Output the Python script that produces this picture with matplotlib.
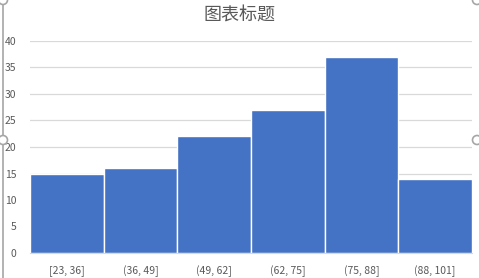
import matplotlib.pyplot as plt
from matplotlib.patches import Circle
from matplotlib.lines import Line2D

plt.rcParams['font.family'] = ['Noto Sans CJK SC', 'DejaVu Sans']

bins = ['[23, 36]', '(36, 49]', '(49, 62]', '(62, 75]', '(75, 88]', '(88, 101]']
counts = [15, 16, 22, 27, 37, 14]
yticks = [0, 5, 10, 15, 20, 25, 30, 35, 40]

W, H = 479, 278
fig = plt.figure(figsize=(W / 100, H / 100), dpi=100)
ax = fig.add_axes([30 / W, 1 - 253 / H, 442 / W, 212 / H])

x = list(range(len(bins)))
ax.bar(x, counts, width=1.0, color='#4472C4', edgecolor='white', linewidth=1.0, zorder=3)

ax.set_xlim(-0.5, len(bins) - 0.5)
ax.set_ylim(0, 40)
ax.set_yticks(yticks)
ax.set_xticks(x)
ax.set_xticklabels(bins)
ax.yaxis.grid(True, color='#D9D9D9', linewidth=0.9, zorder=0)
ax.tick_params(axis='both', length=0, labelsize=7.5, colors='#595959')
ax.tick_params(axis='x', pad=9)
ax.tick_params(axis='y', pad=10)
for s in ['top', 'right', 'left']:
    ax.spines[s].set_visible(False)
ax.spines['bottom'].set_color('#D9D9D9')
ax.spines['bottom'].set_zorder(4)

fig.text(0.5, 1 - 16 / H, '图表标题', ha='center', va='center', fontsize=13, color='#595959')

# selection frame of the chart object (left edge + handles)
fig.add_artist(Line2D([3 / W, 3 / W], [0, 1], color='#A6A6A6', linewidth=1.2))
for cx, cy in [(3, 140), (477, 140), (3, 0), (477, 0)]:
    fig.add_artist(Circle((cx, H - cy), 4.5, transform=None, facecolor='white',
                          edgecolor='#A6A6A6', linewidth=1.2, zorder=10))

fig.savefig('out.png', dpi=100)
